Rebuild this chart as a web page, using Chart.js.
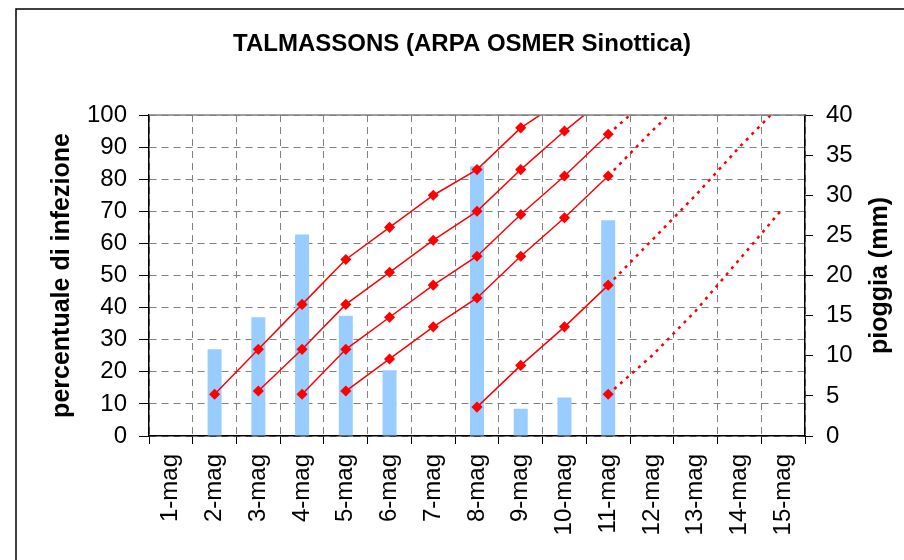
<!DOCTYPE html>
<html>
<head>
<meta charset="utf-8">
<title>TALMASSONS</title>
<script src="https://cdn.jsdelivr.net/npm/chart.js@4/dist/chart.umd.min.js"></script>
<style>
  body { margin: 0; background: #fff; }
  #wrap { width: 904px; height: 560px; }
</style>
</head>
<body>
<div id="wrap"><canvas id="chart" width="904" height="560"></canvas></div>
<script>
const giorni = ['1-mag', '2-mag', '3-mag', '4-mag', '5-mag', '6-mag', '7-mag', '8-mag',
    '9-mag', '10-mag', '11-mag', '12-mag', '13-mag', '14-mag', '15-mag'];

// pioggia giornaliera (mm), asse destro
const pioggia = [0, 10.8, 14.8, 25.1, 15.0, 8.2, 0, 33.6, 3.4, 4.8, 26.9, null, null, null, null];

// percentuale di infezione, una linea per ogni evento (asse sinistro)
const infezione1 = [null, 13, 27, 41, 55, 65, 75, 83, 96, 105, null, null, null, null, null];
const infezione2 = [null, null, 14, 27, 41, 51, 61, 70, 83, 95, 106, null, null, null, null];
const infezione3 = [null, null, null, 13, 27, 37, 47, 56, 69, 81, 94, null, null, null, null];
const infezione4 = [null, null, null, null, 14, 24, 34, 43, 56, 68, 81, null, null, null, null];
const infezione5 = [null, null, null, null, null, null, null, 9, 22, 34, 47, null, null, null, null];
const infezione6 = [null, null, null, null, null, null, null, null, null, null, 13, null, null, null, null];

// previsione (tratteggiata)
const previsione3 = [null, null, null, null, null, null, null, null, null, null, 94, 106, null, null, null];
const previsione4 = [null, null, null, null, null, null, null, null, null, null, 81, 95, 108, null, null];
const previsione5 = [null, null, null, null, null, null, null, null, null, null, 47, 61, 75, 90, 104];
const previsione6 = [null, null, null, null, null, null, null, null, null, null, 13, 25, 39, 55, 71];

const FONT = '"Liberation Sans", Arial, sans-serif';
const ROSSO = '#ff0000';

const lineaPiena = (data) => ({
    type: 'line',
    data: data,
    yAxisID: 'y',
    borderColor: ROSSO,
    borderWidth: 1.5,
    pointStyle: 'rectRot',
    pointRadius: 4.5,
    pointBackgroundColor: ROSSO,
    pointBorderColor: ROSSO,
    tension: 0,
    spanGaps: false,
    order: 0
});

const lineaPrevista = (data) => ({
    type: 'line',
    data: data,
    yAxisID: 'y',
    borderColor: ROSSO,
    borderWidth: 2.5,
    borderDash: [3, 5],
    pointRadius: 0,
    tension: 0,
    spanGaps: false,
    order: 1
});

// cornice esterna, bordo superiore dell'area e titolo dell'asse destro
const cornice = {
    id: 'cornice',
    afterDraw(chart) {
        const ctx = chart.ctx;
        const area = chart.chartArea;
        ctx.save();
        ctx.strokeStyle = '#808080';
        ctx.lineWidth = 1.5;
        ctx.beginPath();
        ctx.moveTo(area.left, area.top);
        ctx.lineTo(area.right, area.top);
        ctx.stroke();

        ctx.strokeStyle = '#000';
        ctx.beginPath();
        ctx.moveTo(16, 560);
        ctx.lineTo(16, 9);
        ctx.lineTo(904, 9);
        ctx.stroke();

        ctx.translate(880, (area.top + area.bottom) / 2);
        ctx.rotate(-Math.PI / 2);
        ctx.fillStyle = '#000';
        ctx.font = 'bold 25px ' + FONT;
        ctx.textAlign = 'center';
        ctx.textBaseline = 'middle';
        ctx.fillText('pioggia (mm)', 0, 0);
        ctx.restore();
    }
};

document.addEventListener('DOMContentLoaded', function() {
    const ctx = document.getElementById('chart').getContext('2d');

    new Chart(ctx, {
        type: 'bar',
        data: {
            labels: giorni,
            datasets: [
                {
                    type: 'bar',
                    data: pioggia,
                    yAxisID: 'y1',
                    backgroundColor: '#99ccff',
                    barPercentage: 0.32,
                    categoryPercentage: 1,
                    order: 10
                },
                lineaPiena(infezione1),
                lineaPiena(infezione2),
                lineaPiena(infezione3),
                lineaPiena(infezione4),
                lineaPiena(infezione5),
                lineaPiena(infezione6),
                lineaPrevista(previsione3),
                lineaPrevista(previsione4),
                lineaPrevista(previsione5),
                lineaPrevista(previsione6)
            ]
        },
        options: {
            responsive: false,
            animation: false,
            layout: { padding: { left: 20, right: 0, top: 0, bottom: 0 } },
            plugins: {
                legend: { display: false },
                tooltip: { enabled: false },
                title: {
                    display: true,
                    text: 'TALMASSONS (ARPA OSMER Sinottica)',
                    color: '#000',
                    font: { family: FONT, size: 24, weight: 'bold' },
                    padding: { top: 30, bottom: 56.2 }
                }
            },
            scales: {
                x: {
                    offset: true,
                    grid: {
                        offset: true,
                        color: '#808080',
                        lineWidth: 1,
                        tickLength: 8,
                        tickColor: '#000'
                    },
                    border: { color: '#000', width: 1.5, dash: [7, 5] },
                    ticks: {
                        color: '#000',
                        font: { family: FONT, size: 24 },
                        minRotation: 90,
                        maxRotation: 90,
                        autoSkip: false,
                        padding: 10
                    },
                    afterFit(scale) { scale.height = 124; }
                },
                y: {
                    position: 'left',
                    min: 0,
                    max: 100,
                    grid: {
                        color: '#808080',
                        lineWidth: 1,
                        tickLength: 10,
                        tickColor: '#000'
                    },
                    border: { color: '#000', width: 1.5, dash: [7, 5] },
                    ticks: {
                        stepSize: 10,
                        color: '#000',
                        font: { family: FONT, size: 24 },
                        padding: 12
                    },
                    title: {
                        display: true,
                        text: 'percentuale di infezione',
                        color: '#000',
                        font: { family: FONT, size: 25, weight: 'bold' },
                        padding: { top: 27, bottom: 0 }
                    },
                    afterFit(scale) { scale.width = 129; }
                },
                y1: {
                    position: 'right',
                    min: 0,
                    max: 40,
                    grid: {
                        drawOnChartArea: false,
                        tickLength: 8,
                        color: '#000'
                    },
                    border: { color: '#000', width: 1.5 },
                    ticks: {
                        stepSize: 5,
                        color: '#000',
                        font: { family: FONT, size: 24 },
                        padding: 13
                    },
                    afterFit(scale) { scale.width = 99; }
                }
            }
        },
        plugins: [cornice]
    });
});
</script>
</body>
</html>
